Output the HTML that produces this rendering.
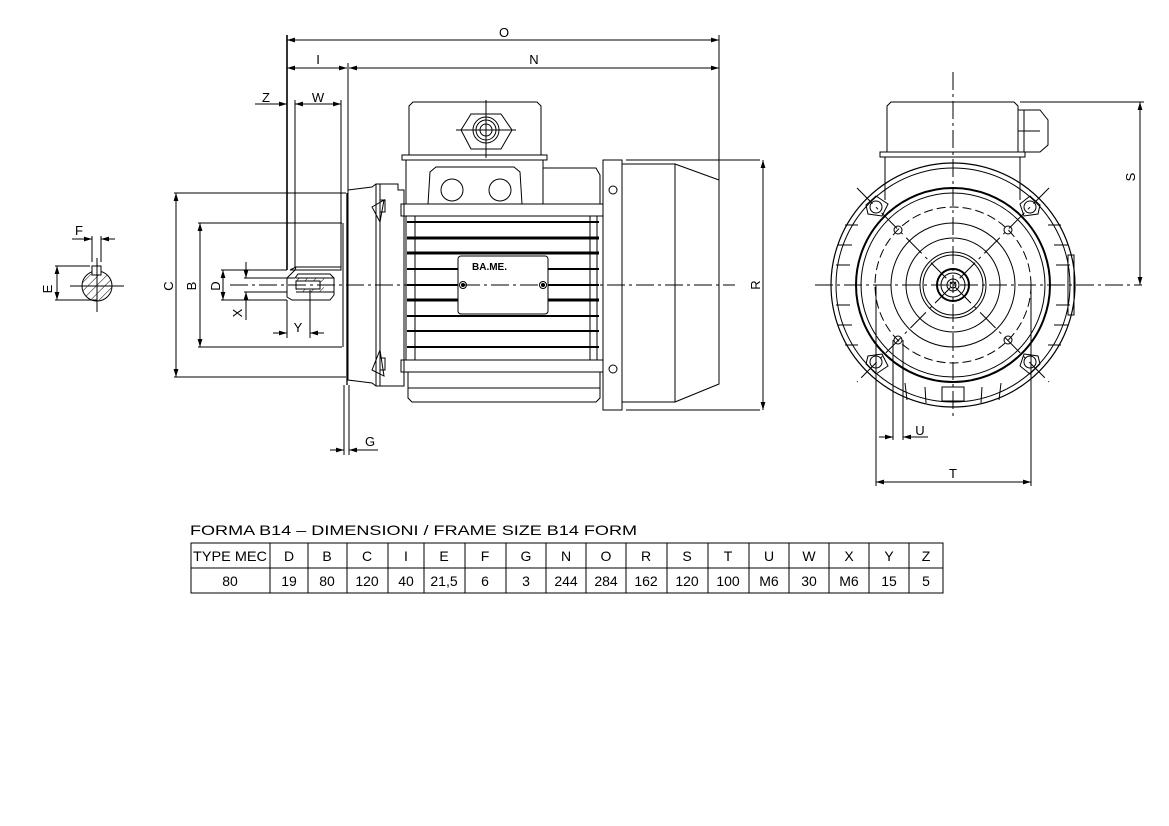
<!DOCTYPE html>
<html><head><meta charset="utf-8"><style>
html,body{margin:0;padding:0;background:#fff;width:1169px;height:826px;overflow:hidden}
svg{display:block}
text{font-family:"Liberation Sans",sans-serif;fill:#000}
</style></head><body>
<svg width="1169" height="826" viewBox="0 0 1169 826" xmlns="http://www.w3.org/2000/svg">
<defs>
<marker id="a" viewBox="0 0 10 6" refX="10" refY="3" markerWidth="8" markerHeight="5" orient="auto-start-reverse"><path d="M0,0 L10,3 L0,6 z" fill="#000"/></marker>
<pattern id="h" width="6" height="6" patternUnits="userSpaceOnUse" patternTransform="rotate(45)"><line x1="0" y1="0" x2="0" y2="6" stroke="#000" stroke-width="1"/></pattern>
</defs>
<g stroke="#000" stroke-width="1" fill="none">
<line x1="287" y1="40" x2="719" y2="40" marker-start="url(#a)" marker-end="url(#a)"/>
<line x1="287" y1="68" x2="347" y2="68" marker-start="url(#a)" marker-end="url(#a)"/>
<line x1="349" y1="68" x2="719" y2="68" marker-start="url(#a)" marker-end="url(#a)"/>
<line x1="287" y1="35" x2="287" y2="270" stroke-width="1.6"/>
<line x1="348" y1="63" x2="348" y2="190"/>
<line x1="719" y1="35" x2="719" y2="180"/>
<line x1="255" y1="104" x2="287" y2="104" marker-end="url(#a)"/>
<line x1="295" y1="104" x2="341" y2="104" marker-start="url(#a)" marker-end="url(#a)"/>
<line x1="295" y1="100" x2="295" y2="268"/>
<line x1="341" y1="100" x2="341" y2="268"/>
<path d="M290,270 L341,270 L341,267 L296,267 Z"/>
<path d="M287,278 L295,270 L296,267 M287,278 L287,297 L292,300 L330,300 L334,295 L334,278 L330,274 L298,274 L295,278 Z"/>
<rect x="296" y="278" width="28" height="14" fill="url(#h)" stroke="none"/>
<rect x="296" y="281" width="24" height="8" fill="#fff"/>
<line x1="296" y1="278" x2="334" y2="278"/>
<line x1="296" y1="292" x2="334" y2="292"/>
<line x1="347" y1="193" x2="347" y2="385" stroke-width="1.3"/>
<line x1="343" y1="223" x2="343" y2="347"/>
<path d="M348,190 L372,187 L376,184 L398,184 L398,190 L404,190 L404,386 L376,386 L372,383 L348,380 Z"/>
<line x1="380" y1="184" x2="380" y2="386"/>
<line x1="376" y1="184" x2="376" y2="386"/>
<path d="M372,207 L384,200 L380,222 Z M372,370 L384,376 L380,350 Z"/>
<rect x="380" y="200" width="5" height="12"/><rect x="380" y="358" width="5" height="12"/>
<line x1="176" y1="193" x2="176" y2="377" marker-start="url(#a)" marker-end="url(#a)"/>
<line x1="174" y1="193" x2="346" y2="193"/><line x1="174" y1="377" x2="346" y2="377"/>
<line x1="200" y1="223" x2="200" y2="347" marker-start="url(#a)" marker-end="url(#a)"/>
<line x1="198" y1="223" x2="342" y2="223"/><line x1="198" y1="347" x2="342" y2="347"/>
<line x1="223" y1="270" x2="223" y2="300" marker-start="url(#a)" marker-end="url(#a)"/>
<line x1="221" y1="270" x2="287" y2="270"/><line x1="221" y1="300" x2="287" y2="300"/>
<line x1="246" y1="262" x2="246" y2="278" marker-end="url(#a)"/>
<line x1="246" y1="292" x2="246" y2="320" marker-start="url(#a)"/>
<line x1="244" y1="278" x2="287" y2="278"/><line x1="244" y1="292" x2="287" y2="292"/>
<line x1="287" y1="300" x2="287" y2="338"/><line x1="310" y1="290" x2="310" y2="338"/>
<line x1="273" y1="333" x2="287" y2="333" marker-end="url(#a)"/>
<line x1="324" y1="333" x2="310" y2="333" marker-end="url(#a)"/>
<line x1="344" y1="385" x2="344" y2="455"/><line x1="349" y1="385" x2="349" y2="455"/>
<line x1="330" y1="450" x2="344" y2="450" marker-end="url(#a)"/>
<line x1="378" y1="450" x2="349" y2="450" marker-end="url(#a)"/>
<path d="M409,155 L409,106 L413,102 L537,102 L541,106 L541,155"/>
<rect x="402" y="155" width="145" height="5"/>
<rect x="406" y="160" width="137" height="44"/>
<path d="M428,204 L430,172 L436,167 L514,167 L520,172 L522,204"/>
<circle cx="452" cy="190" r="11"/><circle cx="500" cy="190" r="11"/>
<path d="M543,168 L596,168 L600,175 L600,204 L543,204"/>
<polygon points="471,114 501,114 512,130 501,149 471,149 461,130"/>
<circle cx="486" cy="130" r="13"/><circle cx="486" cy="130" r="10"/><circle cx="486" cy="130" r="6"/>
<line x1="486" y1="100" x2="486" y2="158"/><line x1="456" y1="130" x2="516" y2="130"/>
<rect x="401" y="204" width="202" height="12"/>
<rect x="401" y="360" width="202" height="12"/>
<line x1="406" y1="216" x2="406" y2="360"/><line x1="415" y1="216" x2="415" y2="360"/>
<line x1="590" y1="216" x2="590" y2="360"/><line x1="597" y1="216" x2="597" y2="360"/>
<path d="M408,372 L408,398 L412,402 L596,402 L600,398 L600,372"/>
<line x1="408" y1="388" x2="600" y2="388"/>
</g>
<g stroke="#000" fill="none">
<line x1="407" y1="222" x2="599" y2="222" stroke-width="2"/>
<line x1="407" y1="238" x2="599" y2="238" stroke-width="3"/>
<line x1="407" y1="253" x2="599" y2="253" stroke-width="3"/>
<line x1="407" y1="269" x2="599" y2="269" stroke-width="2"/>
<line x1="407" y1="285" x2="599" y2="285" stroke-width="2"/>
<line x1="407" y1="300" x2="599" y2="300" stroke-width="3"/>
<line x1="407" y1="316" x2="599" y2="316" stroke-width="2"/>
<line x1="407" y1="331" x2="599" y2="331" stroke-width="2"/>
<line x1="407" y1="347" x2="599" y2="347" stroke-width="2"/>
</g>
<g stroke="#000" stroke-width="1" fill="none">
<rect x="458" y="256" width="90" height="58" rx="3" fill="#fff"/>
<circle cx="463" cy="285" r="3.5" fill="#fff"/><circle cx="463" cy="285" r="1.5" fill="#000"/>
<circle cx="543" cy="285" r="3.5" fill="#fff"/><circle cx="543" cy="285" r="1.5" fill="#000"/>
<rect x="603" y="160" width="19" height="250"/>
<circle cx="613" cy="190" r="4"/><circle cx="613" cy="369" r="4"/>
<rect x="622" y="164" width="53" height="238"/>
<path d="M675,164 L719,180 L719,384 L675,402"/>
<line x1="626" y1="160" x2="760" y2="160"/><line x1="626" y1="410" x2="760" y2="410"/>
<line x1="763" y1="160" x2="763" y2="410" marker-start="url(#a)" marker-end="url(#a)"/>
<line x1="230" y1="285" x2="735" y2="285" stroke-dasharray="18,4,3,4"/>
<circle cx="97" cy="286" r="15" fill="url(#h)"/>
<rect x="92" y="266" width="9" height="9" fill="#fff"/>
<line x1="92" y1="236" x2="92" y2="262"/><line x1="101" y1="236" x2="101" y2="262"/>
<line x1="72" y1="239" x2="92" y2="239" marker-end="url(#a)"/>
<line x1="115" y1="239" x2="101" y2="239" marker-end="url(#a)"/>
<line x1="57" y1="266" x2="57" y2="300" marker-start="url(#a)" marker-end="url(#a)"/>
<line x1="55" y1="266" x2="90" y2="266"/><line x1="55" y1="300" x2="97" y2="300"/>
<line x1="70" y1="286" x2="124" y2="286"/><line x1="97" y1="258" x2="97" y2="312"/>
<path d="M887,152 L887,106 L891,102 L1014,102 L1018,106 L1018,152"/>
<rect x="880" y="152" width="145" height="5"/>
<path d="M885,157 L885,200 M1020,157 L1020,200"/>
<path d="M1018,110 L1040,110 L1048,120 L1048,145 L1040,152 L1018,152 M1024,110 L1024,152 M1018,131 L1040,131"/>
<circle cx="953" cy="285" r="122" stroke-width="1.2"/>
<circle cx="953" cy="285" r="117"/>
<circle cx="953" cy="285" r="97" stroke-width="2"/>
<circle cx="953" cy="285" r="92"/>
<circle cx="953" cy="285" r="78" stroke-dasharray="9,4"/>
<circle cx="953" cy="285" r="62"/>
<circle cx="953" cy="285" r="47"/>
<circle cx="953" cy="285" r="33"/>
<circle cx="953" cy="285" r="30"/>
<circle cx="953" cy="285" r="16" stroke-width="2"/>
<circle cx="953" cy="285" r="12"/>
<circle cx="953" cy="285" r="6"/><circle cx="953" cy="285" r="3"/>
<circle cx="898" cy="230" r="4"/><circle cx="1008" cy="230" r="4"/>
<circle cx="898" cy="340" r="4"/><circle cx="1008" cy="340" r="4"/>
<circle cx="876" cy="207" r="6"/><circle cx="1030" cy="207" r="6"/>
<circle cx="876" cy="362" r="6"/><circle cx="1030" cy="362" r="6"/>
<path d="M866,205 L876,196 L888,204 L882,216 L868,214 Z M1020,204 L1030,196 L1040,205 L1038,214 L1024,216 Z M866,364 L868,356 L882,354 L888,366 L876,374 Z M1024,354 L1038,356 L1040,364 L1030,374 L1020,366 Z"/>
<line x1="857" y1="188" x2="1049" y2="382" stroke-dasharray="22,5,3,5"/>
<line x1="1049" y1="188" x2="857" y2="382" stroke-dasharray="22,5,3,5"/>
<path d="M838,245 L852,245 M836,265 L850,265 M836,305 L850,305 M838,325 L852,325 M845,225 L858,225 M845,345 L858,345 M1054,245 L1068,245 M1056,265 L1070,265 M1056,305 L1070,305 M1054,325 L1068,325 M1048,225 L1061,225 M1048,345 L1061,345"/>
<rect x="942" y="387" width="22" height="14"/>
<path d="M905,383 L907,400 M925,387 L926,403 M982,387 L981,403 M1001,383 L999,400"/>
<rect x="1068" y="255" width="6" height="60"/>
<line x1="953" y1="72" x2="953" y2="420" stroke-dasharray="18,4,3,4"/>
<line x1="815" y1="285" x2="1142" y2="285" stroke-dasharray="18,4,3,4"/>
<line x1="1020" y1="102" x2="1144" y2="102"/>
<line x1="1140" y1="102" x2="1140" y2="285" marker-start="url(#a)" marker-end="url(#a)"/>
<line x1="876" y1="285" x2="876" y2="486"/><line x1="1031" y1="285" x2="1031" y2="486"/>
<line x1="876" y1="482" x2="1031" y2="482" marker-start="url(#a)" marker-end="url(#a)"/>
<line x1="893" y1="340" x2="893" y2="440"/><line x1="903" y1="340" x2="903" y2="440"/>
<line x1="879" y1="437" x2="893" y2="437" marker-end="url(#a)"/>
<line x1="928" y1="437" x2="903" y2="437" marker-end="url(#a)"/>
<rect x="191" y="543" width="752" height="50"/>
<line x1="191" y1="568" x2="943" y2="568"/>
<path d="M270,543V593M308,543V593M347,543V593M388,543V593M424,543V593M465,543V593M506,543V593M546,543V593M586,543V593M626,543V593M667,543V593M708,543V593M749,543V593M789,543V593M829,543V593M869,543V593M909,543V593"/>
</g>
<g font-size="13">
<text x="504" y="37" text-anchor="middle">O</text>
<text x="318" y="64" text-anchor="middle">I</text>
<text x="534" y="64" text-anchor="middle">N</text>
<text x="266" y="102" text-anchor="middle">Z</text>
<text x="318" y="102" text-anchor="middle">W</text>
<text x="79" y="235" text-anchor="middle">F</text>
<text x="298" y="332" text-anchor="middle">Y</text>
<text x="370" y="446" text-anchor="middle">G</text>
<text x="920" y="435" text-anchor="middle">U</text>
<text x="953" y="478" text-anchor="middle">T</text>
<text transform="translate(52,289) rotate(-90)" text-anchor="middle">E</text>
<text transform="translate(173,286) rotate(-90)" text-anchor="middle">C</text>
<text transform="translate(196,286) rotate(-90)" text-anchor="middle">B</text>
<text transform="translate(220,286) rotate(-90)" text-anchor="middle">D</text>
<text transform="translate(242,313) rotate(-90)" text-anchor="middle">X</text>
<text transform="translate(760,285) rotate(-90)" text-anchor="middle">R</text>
<text transform="translate(1135,177) rotate(-90)" text-anchor="middle">S</text>
<text x="472" y="270" font-size="10" font-weight="bold">BA.ME.</text>
<text x="190" y="535" font-size="14" textLength="447" lengthAdjust="spacingAndGlyphs">FORMA B14 – DIMENSIONI / FRAME SIZE B14 FORM</text>
</g>
<g font-size="14" text-anchor="middle">
<text x="230" y="561" textLength="74" lengthAdjust="spacingAndGlyphs">TYPE MEC</text>
<text x="289" y="561">D</text><text x="327" y="561">B</text><text x="367" y="561">C</text><text x="406" y="561">I</text><text x="444" y="561">E</text><text x="485" y="561">F</text><text x="526" y="561">G</text><text x="566" y="561">N</text><text x="606" y="561">O</text><text x="646" y="561">R</text><text x="687" y="561">S</text><text x="728" y="561">T</text><text x="769" y="561">U</text><text x="809" y="561">W</text><text x="849" y="561">X</text><text x="889" y="561">Y</text><text x="926" y="561">Z</text>
<text x="230" y="586">80</text>
<text x="289" y="586">19</text><text x="327" y="586">80</text><text x="367" y="586">120</text><text x="406" y="586">40</text><text x="444" y="586">21,5</text><text x="485" y="586">6</text><text x="526" y="586">3</text><text x="566" y="586">244</text><text x="606" y="586">284</text><text x="646" y="586">162</text><text x="687" y="586">120</text><text x="728" y="586">100</text><text x="769" y="586">M6</text><text x="809" y="586">30</text><text x="849" y="586">M6</text><text x="889" y="586">15</text><text x="926" y="586">5</text>
</g>
</svg>
</body></html>
